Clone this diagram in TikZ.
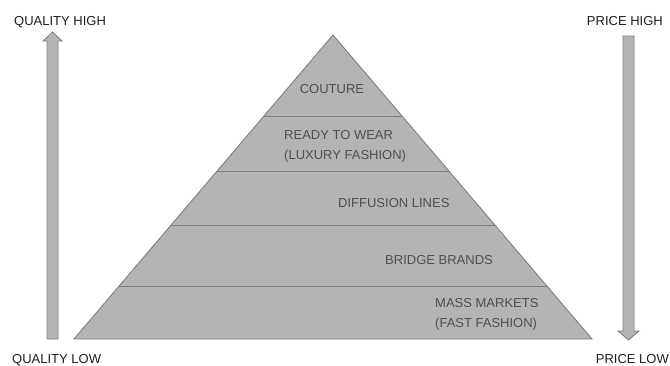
\documentclass[tikz,border=0pt]{standalone}
\usepackage{fontspec}
\setmainfont{Liberation Sans}
\usetikzlibrary{calc}
\definecolor{pyrfill}{HTML}{B4B4B4}
\definecolor{pyrline}{HTML}{7E7E7E}
\definecolor{tiertext}{HTML}{4F4F4F}
\definecolor{axistext}{HTML}{1E1E1E}
\begin{document}
\begin{tikzpicture}[x=1pt,y=-1pt,
  tier/.style={font=\fontsize{13}{20}\selectfont, text=tiertext, inner sep=0pt, align=left},
  axislabel/.style={font=\fontsize{13}{16}\selectfont, text=axistext, inner sep=0pt},
  divider/.style={draw=pyrline, line width=0.9pt},
  bigarrow/.style={fill=pyrfill, draw=pyrline, line width=0.8pt, line join=miter}]
\useasboundingbox (0,0) rectangle (670,365);

% pyramid outline
\coordinate (apex) at (333,35);
\coordinate (bl) at (74,339);
\coordinate (br) at (592,339);
\fill[pyrfill] (apex) -- (bl) -- (br) -- cycle;
\draw[pyrline, line width=0.9pt, line join=miter] (apex) -- (bl) -- (br) -- cycle;

% tier boundaries
\foreach \t [count=\i] in {0.2664,0.4474,0.625,0.8257}{
  \coordinate (l\i) at ($(apex)!\t!(bl)$);
  \coordinate (r\i) at ($(apex)!\t!(br)$);
  \draw[divider] (l\i) -- (r\i);
}

% tier labels (base of a two-line node is its last line)
\node[tier, anchor=base] (couture) at (332,93) {COUTURE};
\node[tier, anchor=base west] (rtw) at (284,159) {READY TO WEAR\\(LUXURY FASHION)};
\node[tier, anchor=base west] (diff) at (338,207) {DIFFUSION LINES};
\node[tier, anchor=base west] (bridge) at (385,264) {BRIDGE BRANDS};
\node[tier, anchor=base west] (mass) at (435,327) {MASS MARKETS\\(FAST FASHION)};

% quality arrow (up)
\draw[bigarrow] (47,339) -- (47,41) -- (43,41) -- (52.5,32) -- (62,41) -- (58,41) -- (58,339) -- cycle;
% price arrow (down)
\draw[bigarrow] (623,36) -- (634,36) -- (634,331) -- (639,331) -- (628.5,340) -- (618,331) -- (623,331) -- cycle;

% axis labels
\node[axislabel, anchor=base west] (qhigh) at (14,25) {QUALITY HIGH};
\node[axislabel, anchor=base west] (qlow) at (12,363) {QUALITY LOW};
\node[axislabel, anchor=base east] (phigh) at (663,25) {PRICE HIGH};
\node[axislabel, anchor=base east] (plow) at (669,363) {PRICE LOW};
\end{tikzpicture}
\end{document}
